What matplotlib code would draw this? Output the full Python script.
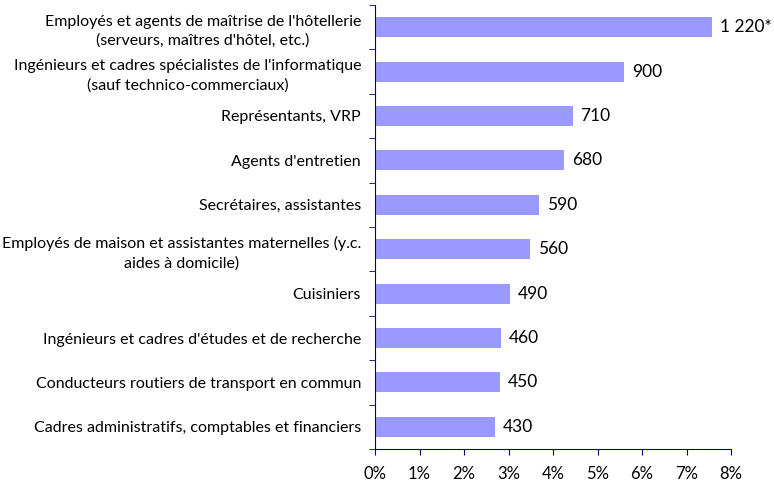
import matplotlib.pyplot as plt
from matplotlib.ticker import FixedLocator, PercentFormatter

categories = [
    "Employés et agents de maîtrise de l'hôtellerie\n(serveurs, maîtres d'hôtel, etc.)",
    "Ingénieurs et cadres spécialistes de l'informatique\n(sauf technico-commerciaux)",
    "Représentants, VRP",
    "Agents d'entretien",
    "Secrétaires, assistantes",
    "Employés de maison et assistantes maternelles (y.c.\naides à domicile)",
    "Cuisiniers",
    "Ingénieurs et cadres d'études et de recherche",
    "Conducteurs routiers de transport en commun",
    "Cadres administratifs, comptables et financiers",
]
shares = [7.58, 5.59, 4.44, 4.24, 3.68, 3.48, 3.03, 2.83, 2.80, 2.69]
labels = ["1 220*", "900", "710", "680", "590", "560", "490", "460", "450", "430"]

plt.rcParams['font.family'] = ['Lato', 'DejaVu Sans']
navy = '#000080'

fig = plt.figure(figsize=(7.74, 4.84), dpi=100)
ax = fig.add_axes([0.4845, 0.0723, 0.46, 0.9174])

ypos = list(range(len(categories)))[::-1]
ax.barh(ypos, shares, height=0.45, color='#9999FF')
for y, v, lab in zip(ypos, shares, labels):
    ax.text(v + 0.18, y, lab, va='center', ha='left', fontsize=12.5, color='black')

ax.set_xlim(0, 8)
ax.set_ylim(-0.5, len(categories) - 0.5)
ax.set_xticks(range(9))
ax.xaxis.set_major_formatter(PercentFormatter(decimals=0))
ax.set_yticks(ypos)
ax.set_yticklabels(categories, fontsize=11.5, multialignment='center', linespacing=1.45)
ax.yaxis.set_minor_locator(FixedLocator([i - 0.5 for i in range(len(categories) + 1)]))
ax.tick_params(axis='y', which='major', length=0, pad=10)
ax.tick_params(axis='y', which='minor', length=4, color=navy, direction='out')
ax.tick_params(axis='x', length=4, color=navy, labelsize=12, pad=8)

for s in ['top', 'right']:
    ax.spines[s].set_visible(False)
for s in ['left', 'bottom']:
    ax.spines[s].set_color(navy)

fig.savefig('out.png', dpi=100)
